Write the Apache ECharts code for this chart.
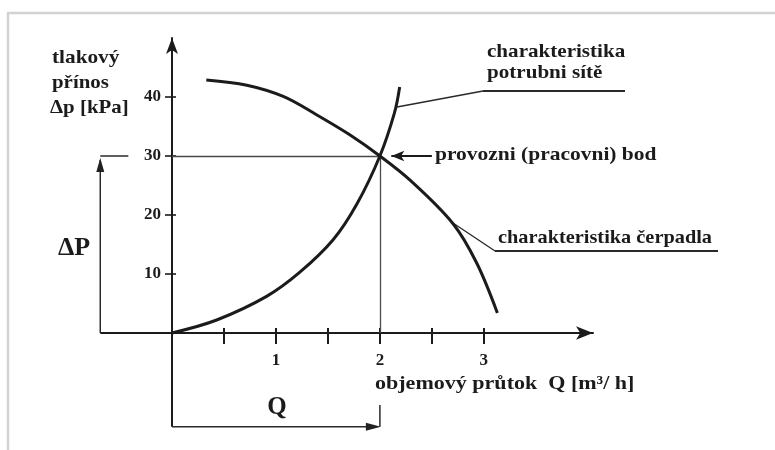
<!DOCTYPE html>
<html>
<head>
<meta charset="utf-8">
<script src="https://cdn.jsdelivr.net/npm/echarts@6/dist/echarts.min.js"></script>
<style>
  html, body { margin: 0; padding: 0; background: #ffffff; }
  #chart { width: 775px; height: 450px; }
</style>
</head>
<body>
<div id="chart"></div>
<script>
// Pump curve vs. pipe network curve with the duty point
const flowTicks = [0.5, 1, 1.5, 2, 2.5, 3];
const flowLabels = [1, 2, 3];
const pressureTicks = [10, 20, 30, 40];

const pumpFlow = [0.33, 0.72, 1.07, 1.39, 1.71, 2.0, 2.29, 2.70, 2.93, 3.13];
const pumpPressure = [42.9, 42.0, 40.1, 37.0, 33.6, 30, 25.9, 18.6, 11.9, 3.4];

const pipeFlow = [0, 0.43, 0.91, 1.23, 1.55, 1.78, 2.0, 2.14, 2.19];
const pipePressure = [0, 2.2, 6.2, 10.3, 15.8, 21.9, 30, 37.3, 41.7];

const dutyFlow = 2;
const dutyPressure = 30;

const ink = '#1b1b1b';
const serif = '"Liberation Serif", "DejaVu Serif", serif';

const chart = echarts.init(document.getElementById('chart'), null, { renderer: 'canvas' });

const zip = (xs, ys) => xs.map((x, i) => [x, ys[i]]);

function seg(a, b, opts) {
  const o = opts || {};
  const style = { color: o.color || '#3a3a3a', width: o.width || 1.4, type: 'solid' };
  return [
    { coord: a, symbol: o.startSymbol || 'none', symbolSize: o.size || [8, 14], lineStyle: style },
    { coord: b, symbol: o.endSymbol || 'none', symbolSize: o.size || [8, 14], lineStyle: style }
  ];
}

const option = {
  animation: false,
  backgroundColor: '#ffffff',
  grid: { left: 172, right: 182, top: 38, bottom: 117, containLabel: false, outerBoundsMode: 'none' },
  xAxis: [
    {
      type: 'value', min: 0, max: 4.05,
      axisLine: { onZero: false, symbol: ['none', 'arrow'], symbolSize: [10, 17],
        lineStyle: { color: ink, width: 2 } },
      axisTick: { customValues: flowTicks, length: 11, lineStyle: { color: ink, width: 2 } },
      axisLabel: { customValues: flowLabels, margin: 19, color: ink,
        fontFamily: serif, fontWeight: 'bold', fontSize: 17 },
      splitLine: { show: false }
    },
    {
      type: 'value', min: 0, max: 4.05, position: 'top',
      axisLine: { show: false, onZero: true },
      axisTick: { customValues: flowTicks, length: 5, lineStyle: { color: ink, width: 2 } },
      axisLabel: { show: false },
      splitLine: { show: false }
    }
  ],
  yAxis: [
    {
      type: 'value', min: 0, max: 50,
      axisLine: { onZero: false, symbol: ['none', 'arrow'], symbolSize: [9, 16],
        lineStyle: { color: ink, width: 2 } },
      axisTick: { customValues: pressureTicks, length: 7, lineStyle: { color: ink, width: 1.6 } },
      axisLabel: { customValues: pressureTicks, margin: 11, color: ink,
        fontFamily: serif, fontWeight: 'bold', fontSize: 17 },
      splitLine: { show: false }
    },
    {
      type: 'value', min: 0, max: 50, position: 'right',
      axisLine: { show: false, onZero: true },
      axisTick: { customValues: pressureTicks, length: 4, lineStyle: { color: ink, width: 1.6 } },
      axisLabel: { show: false },
      splitLine: { show: false }
    }
  ],
  series: [
    {
      name: 'charakteristika čerpadla',
      type: 'line',
      data: zip(pumpFlow, pumpPressure),
      smooth: 0.35,
      showSymbol: false,
      lineStyle: { color: ink, width: 3 },
      silent: true,
      clip: false,
      z: 5
    },
    {
      name: 'charakteristika potrubní sítě',
      type: 'line',
      data: zip(pipeFlow, pipePressure),
      smooth: 0.35,
      showSymbol: false,
      lineStyle: { color: ink, width: 3 },
      silent: true,
      clip: false,
      z: 5,
      markLine: {
        silent: true,
        animation: false,
        label: { show: false },
        emphasis: { disabled: true },
        data: [
          // guide lines to the duty point
          seg([0, dutyPressure], [dutyFlow, dutyPressure], { color: '#4a4a4a', width: 1.3 }),
          seg([dutyFlow, 0], [dutyFlow, dutyPressure], { color: '#4a4a4a', width: 1.3 }),
          // arrow to the duty point
          seg([2.5, dutyPressure], [2.11, dutyPressure], { endSymbol: 'arrow', size: [8, 13], color: ink, width: 2 })
        ]
      }
    }
  ]
};

chart.setOption(option);

// ---- decorations drawn in pixel space, anchored through the grid's scales ----
const px = (x, y) => chart.convertToPixel({ gridIndex: 0 }, [x, y]);

function lineEl(a, b, w, c) {
  return {
    type: 'line', silent: true,
    shape: { x1: a[0], y1: a[1], x2: b[0], y2: b[1] },
    style: { stroke: c || '#2a2a2a', lineWidth: w || 1.4 }
  };
}
function arrowHead(tip, from, len, half, c) {
  const dx = tip[0] - from[0], dy = tip[1] - from[1];
  const d = Math.hypot(dx, dy) || 1;
  const ux = dx / d, uy = dy / d;
  const bx = tip[0] - ux * len, by = tip[1] - uy * len;
  return {
    type: 'polygon', silent: true,
    shape: { points: [tip, [bx - uy * half, by + ux * half], [bx + uy * half, by - ux * half]] },
    style: { fill: c || '#222' }
  };
}
function textEl(text, x, y, size, opts) {
  const o = opts || {};
  return {
    type: 'text', silent: true,
    x: x, y: y, scaleX: o.sx || 1,
    style: {
      text: text, x: 0, y: 0,
      font: 'bold ' + size + 'px ' + serif,
      fill: ink,
      align: o.align || 'left',
      verticalAlign: 'middle'
    }
  };
}

const bracketX = -0.69;   // Δp bracket column, left of the axis
const belowQ = -15.9;     // Q bracket row, below the axis

const origin = px(0, 0);
const xLeft = px(bracketX, 0);
const yLow = px(0, belowQ);
const brBottom = px(bracketX, 0);
const brTop = px(bracketX, dutyPressure);
const brTopEnd = px(-0.42, dutyPressure);
const qStart = px(0, belowQ);
const qEnd = px(dutyFlow, belowQ);
const qTick = px(dutyFlow, -12.2);

const graphics = [
  // frame
  { type: 'rect', silent: true, shape: { x: 8, y: 13, width: 820, height: 500 },
    style: { fill: 'none', stroke: '#d2d2d2', lineWidth: 2.4 } },
  // axis lines continued past the origin
  lineEl(xLeft, origin, 2, ink),
  lineEl(origin, yLow, 2, ink),
  // Δp bracket
  lineEl(brBottom, [brTop[0], brTop[1] + 4], 1.5),
  arrowHead([brTop[0], brTop[1] + 2], brBottom, 14, 4),
  lineEl(brTop, brTopEnd, 1.5),
  // Q bracket
  lineEl(qStart, [qEnd[0] - 4, qEnd[1]], 1.5),
  arrowHead([qEnd[0] + 1, qEnd[1]], qStart, 15, 4),
  lineEl(qEnd, qTick, 1.5),
  // axis titles
  textEl('tlakový', 52, 58, 19, { sx: 1.12 }),
  textEl('přínos', 52, 83, 19, { sx: 1.1 }),
  textEl('Δp [kPa]', 50, 108, 19, { sx: 1.1 }),
  textEl('ΔP', 58, 248, 26),
  textEl('Q', 277, 408, 25, { align: 'center' }),
  textEl('objemový průtok  Q [m³/ h]', 375, 384, 19, { sx: 1.16 }),
  // annotations
  textEl('charakteristika', 487, 52, 19, { sx: 1.11 }),
  textEl('potrubni sítě', 487, 73, 19, { sx: 1.11 }),
  lineEl([483, 91], [625, 91], 2),
  lineEl([483, 91], [397, 107], 1.4),
  textEl('provozni (pracovni) bod', 435, 155, 19, { sx: 1.13 }),
  textEl('charakteristika čerpadla', 498, 238, 19, { sx: 1.07 }),
  lineEl([495, 251], [718, 251], 2),
  lineEl([495, 251], [453, 223], 1.4)
];

chart.setOption({ graphic: graphics });
</script>
</body>
</html>
